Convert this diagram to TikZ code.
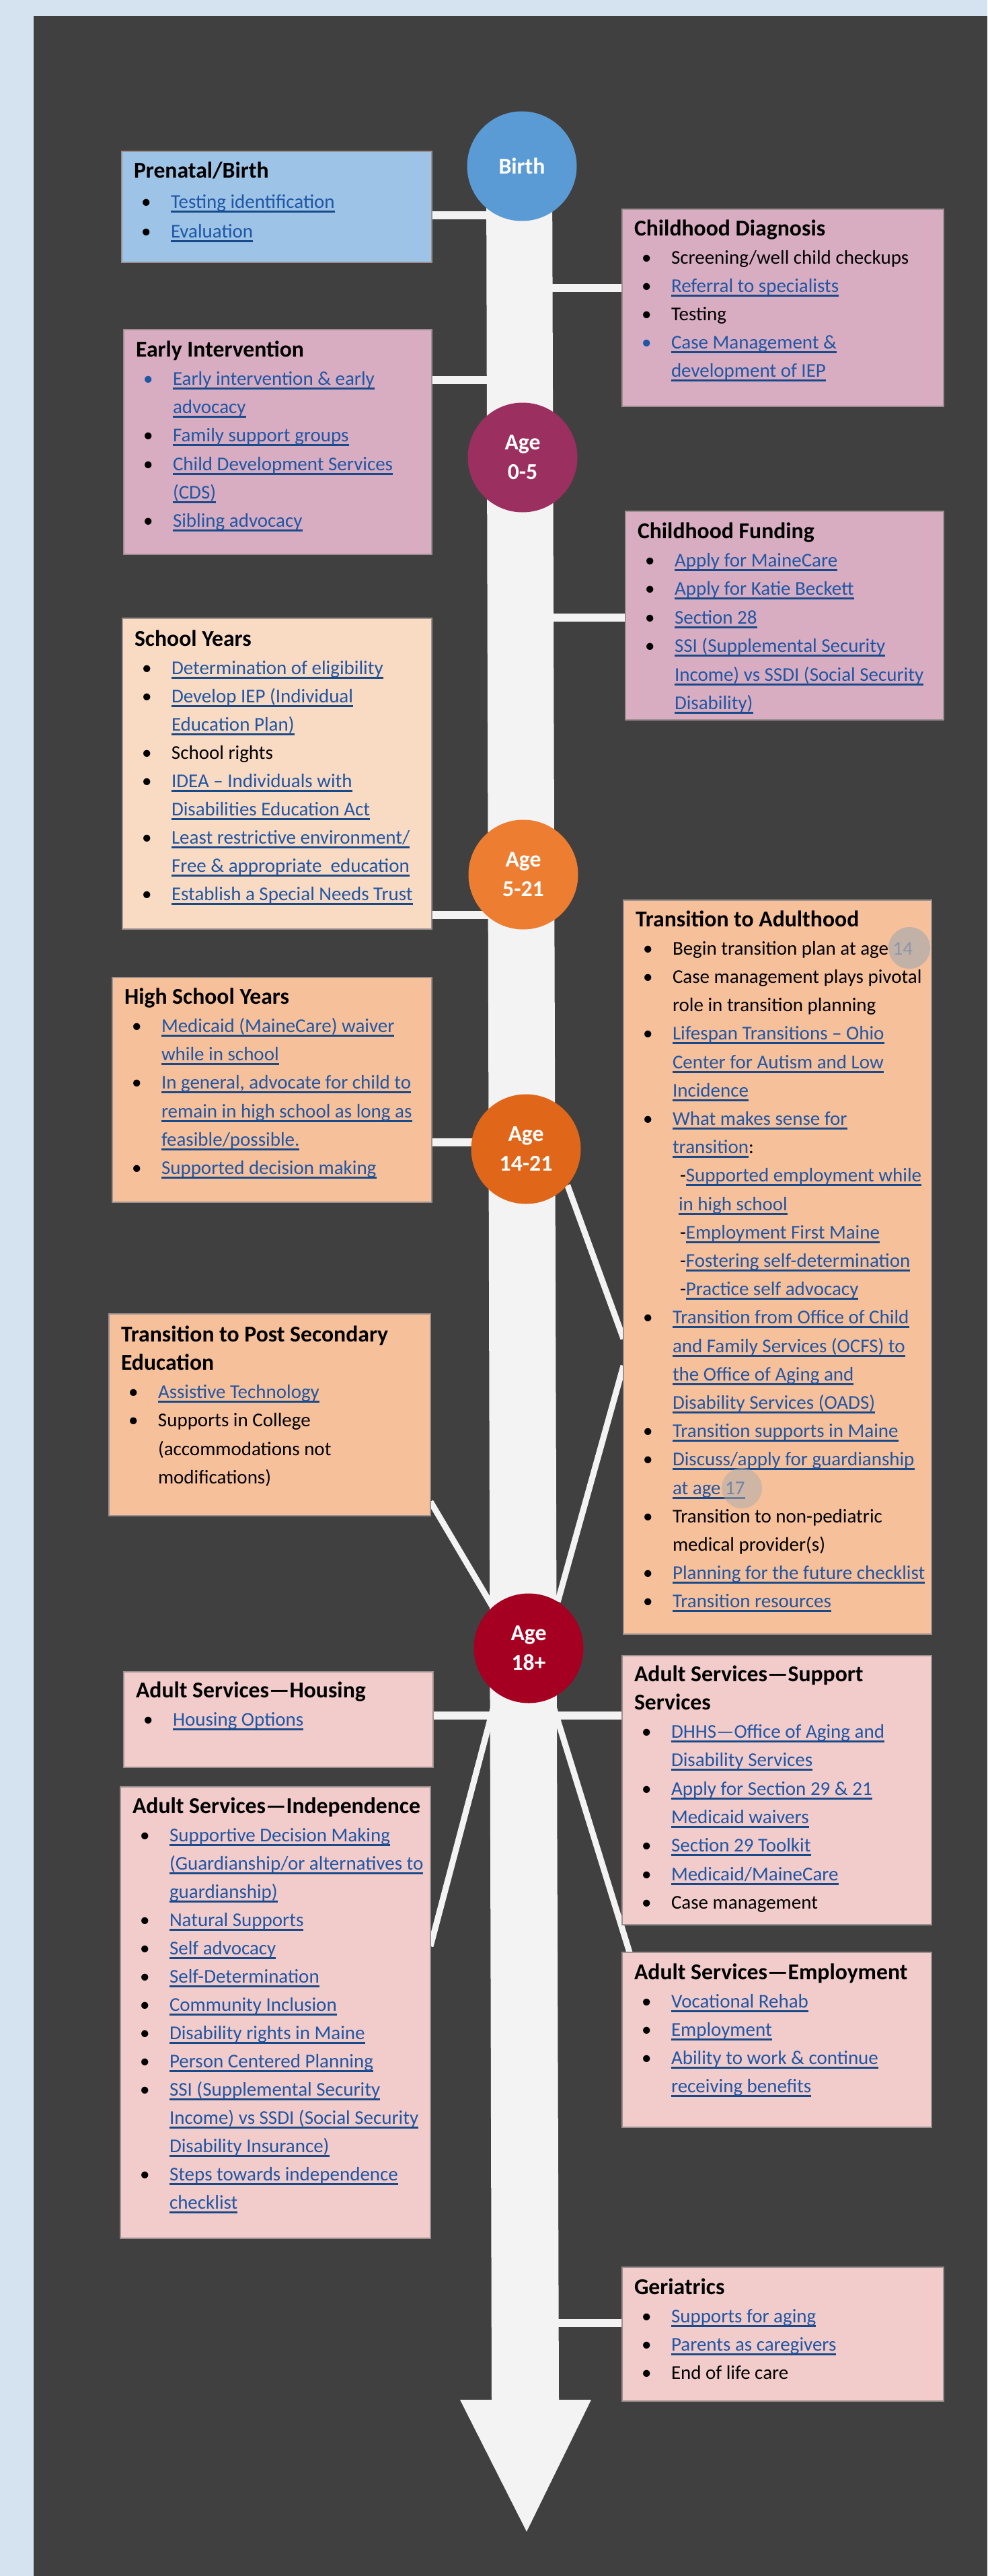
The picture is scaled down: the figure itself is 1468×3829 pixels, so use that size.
\documentclass[tikz,border=0pt]{standalone}
\usepackage{fontspec}
\setmainfont{Carlito}
\usepackage{xcolor}
\definecolor{bgblue}{HTML}{D5E2F0}
\definecolor{darkbg}{HTML}{404040}
\definecolor{spinec}{HTML}{F3F3F3}
\definecolor{cprenatal}{HTML}{9DC3E6}
\definecolor{cmauve}{HTML}{D8ADC1}
\definecolor{cpeachl}{HTML}{F9DAC3}
\definecolor{cpeach}{HTML}{F6C09B}
\definecolor{cpink}{HTML}{F2CCCB}
\definecolor{cbirth}{HTML}{5B9BD5}
\definecolor{cage05}{HTML}{9B2F5F}
\definecolor{cage521}{HTML}{ED7D31}
\definecolor{cage1421}{HTML}{E0661A}
\definecolor{cage18}{HTML}{A50021}
\definecolor{lnk}{HTML}{1F56A5}
\definecolor{lnkul}{HTML}{174A8B}
\definecolor{boxline}{HTML}{9C8F8F}
\definecolor{hilite}{HTML}{B0ACAC}

\pgfdeclarelayer{bgzero}
\pgfdeclarelayer{connlayer}
\pgfsetlayers{bgzero,connlayer,main}

\newlength\bw
\newcommand\infotext[5]{\setlength\bw{#1pt}\vbox to #2pt{\baselineskip=#4pt\lineskiplimit=-200pt\lineskip=0pt\hbox to \bw{}\vskip\dimexpr #3pt-#4pt\relax #5\vfil}}
\newcommand\Ttl[1]{\hbox to \bw{\hskip18pt{\fontsize{33.7pt}{40pt}\selectfont\bfseries #1}\hss}}
\newcommand\Bul[1]{\hbox to \bw{\hskip29pt\hbox to 44pt{\textbullet\hss}#1\hss}}
\newcommand\Bub[1]{\hbox to \bw{\hskip29pt\hbox to 44pt{{\color{lnk}\textbullet}\hss}#1\hss}}
\newcommand\Con[1]{\hbox to \bw{\hskip73pt #1\hss}}
\newcommand\Dsh[1]{\hbox to \bw{\hskip84pt #1\hss}}
\newcommand\Dcn[1]{\hbox to \bw{\hskip82pt #1\hss}}
\newcommand\lk[1]{\setbox0=\hbox{{\color{lnk}#1}}\rlap{{\color{lnkul}\rule[-6.5pt]{\wd0}{3pt}}}\box0}

\tikzset{
  infobox/.style={anchor=north west, inner sep=0pt, outer sep=0pt, draw=boxline, line width=1.2pt,
    font=\fontsize{29pt}{42pt}\selectfont},
  agecirc/.style={circle, minimum size=163pt, inner sep=0pt, text=white, align=center,
    font=\fontsize{33.7pt}{44pt}\selectfont\bfseries},
  conn/.style={draw=spinec, line width=12pt},
  diag/.style={draw=spinec, line width=9pt},
  hl/.style={circle, fill=hilite, draw=none, inner sep=0pt}
}

\begin{document}
\begin{tikzpicture}[x=1pt,y=-1pt]
\useasboundingbox (0,0) rectangle (1468,3829);
\begin{pgfonlayer}{bgzero}
\fill[bgblue] (0,0) rectangle (1468,3829);
\fill[darkbg] (50,24) rectangle (1468,3829);
\end{pgfonlayer}

% level coordinates for horizontal connectors
\coordinate (y1) at (0,320);
\coordinate (y2) at (0,428);
\coordinate (y3) at (0,565);
\coordinate (y4) at (0,918);
\coordinate (y5) at (0,1360);
\coordinate (y6) at (0,1698);
\coordinate (y7) at (0,2550);
\coordinate (y8) at (0,3453);
\coordinate (tj1) at (927,1990);
\coordinate (tj2) at (927,2030);

\node[infobox, fill=cprenatal] (prenatal) at (181,225) {\infotext{461}{165}{39.5}{44.5}{%
 \Ttl{Prenatal/Birth}%
 \Bul{\lk{Testing identification}}%
 \Bul{\lk{Evaluation}}}};

\node[infobox, fill=cmauve] (diag) at (925,311) {\infotext{478}{293}{39}{42}{%
 \Ttl{Childhood Diagnosis}%
 \Bul{Screening/well child checkups}%
 \Bul{\lk{Referral to specialists}}%
 \Bul{Testing}%
 \Bub{\lk{Case Management \&}}%
 \Con{\lk{development of IEP}}}};

\node[infobox, fill=cmauve] (early) at (184,490) {\infotext{458}{334}{40}{42.3}{%
 \Ttl{Early Intervention}%
 \Bub{\lk{Early intervention \& early}}%
 \Con{\lk{advocacy}}%
 \Bul{\lk{Family support groups}}%
 \Bul{\lk{Child Development Services}}%
 \Con{\lk{(CDS)}}%
 \Bul{\lk{Sibling advocacy}}}};

\node[infobox, fill=cmauve] (fund) at (930,760) {\infotext{473}{310}{40}{42.4}{%
 \Ttl{Childhood Funding}%
 \Bul{\lk{Apply for MaineCare}}%
 \Bul{\lk{Apply for Katie Beckett}}%
 \Bul{\lk{Section 28}}%
 \Bul{\lk{SSI (Supplemental Security}}%
 \Con{\lk{Income) vs SSDI (Social Security}}%
 \Con{\lk{Disability)}}}};

\node[infobox, fill=cpeachl] (school) at (182,919) {\infotext{460}{462}{41}{42.1}{%
 \Ttl{School Years}%
 \Bul{\lk{Determination of eligibility}}%
 \Bul{\lk{Develop IEP (Individual}}%
 \Con{\lk{Education Plan)}}%
 \Bul{School rights}%
 \Bul{\lk{IDEA – Individuals with}}%
 \Con{\lk{Disabilities Education Act}}%
 \Bul{\lk{Least restrictive environment/}}%
 \Con{\lk{Free \& appropriate\ \ education}}%
 \Bul{\lk{Establish a Special Needs Trust}}}};

\node[infobox, fill=cpeach] (tadult) at (927,1338) {\infotext{458}{1091}{39}{42.2}{%
 \Ttl{Transition to Adulthood}%
 \Bul{Begin transition plan at age {\color{lnk}14}}%
 \Bul{Case management plays pivotal}%
 \Con{role in transition planning}%
 \Bul{\lk{Lifespan Transitions – Ohio}}%
 \Con{\lk{Center for Autism and Low}}%
 \Con{\lk{Incidence}}%
 \Bul{\lk{What makes sense for}}%
 \Con{\lk{transition}:}%
 \Dsh{-\lk{Supported employment while}}%
 \Dcn{\lk{in high school}}%
 \Dsh{-\lk{Employment First Maine}}%
 \Dsh{-\lk{Fostering self-determination}}%
 \Dsh{-\lk{Practice self advocacy}}%
 \Bul{\lk{Transition from Office of Child}}%
 \Con{\lk{and Family Services (OCFS) to}}%
 \Con{\lk{the Office of Aging and}}%
 \Con{\lk{Disability Services (OADS)}}%
 \Bul{\lk{Transition supports in Maine}}%
 \Bul{\lk{Discuss/apply for guardianship}}%
 \Con{\lk{at age 17}}%
 \Bul{Transition to non-pediatric}%
 \Con{medical provider(s)}%
 \Bul{\lk{Planning for the future checklist}}%
 \Bul{\lk{Transition resources}}}};

\node[infobox, fill=cpeach] (hs) at (167,1453) {\infotext{475}{334}{39}{42.3}{%
 \Ttl{High School Years}%
 \Bul{\lk{Medicaid (MaineCare) waiver}}%
 \Con{\lk{while in school}}%
 \Bul{\lk{In general, advocate for child to}}%
 \Con{\lk{remain in high school as long as}}%
 \Con{\lk{feasible/possible.}}%
 \Bul{\lk{Supported decision making}}}};

\node[infobox, fill=cpeach] (ps) at (162,1953) {\infotext{478}{300}{41}{42.3}{%
 \Ttl{Transition to Post Secondary}%
 \Ttl{Education}%
 \Bul{\lk{Assistive Technology}}%
 \Bul{Supports in College}%
 \Con{(accommodations not}%
 \Con{modifications)}}};

\node[infobox, fill=cpink] (house) at (184,2485) {\infotext{460}{142}{38}{42}{%
 \Ttl{Adult Services—Housing}%
 \Bul{\lk{Housing Options}}}};

\node[infobox, fill=cpink] (supp) at (925,2461) {\infotext{460}{400}{38}{42.3}{%
 \Ttl{Adult Services—Support}%
 \Ttl{Services}%
 \Bul{\lk{DHHS—Office of Aging and}}%
 \Con{\lk{Disability Services}}%
 \Bul{\lk{Apply for Section 29 \& 21}}%
 \Con{\lk{Medicaid waivers}}%
 \Bul{\lk{Section 29 Toolkit}}%
 \Bul{\lk{Medicaid/MaineCare}}%
 \Bul{Case management}}};

\node[infobox, fill=cpink] (indep) at (179,2656) {\infotext{461}{671}{39}{42}{%
 \Ttl{Adult Services—Independence}%
 \Bul{\lk{Supportive Decision Making}}%
 \Con{\lk{(Guardianship/or alternatives to}}%
 \Con{\lk{guardianship)}}%
 \Bul{\lk{Natural Supports}}%
 \Bul{\lk{Self advocacy}}%
 \Bul{\lk{Self-Determination}}%
 \Bul{\lk{Community Inclusion}}%
 \Bul{\lk{Disability rights in Maine}}%
 \Bul{\lk{Person Centered Planning}}%
 \Bul{\lk{SSI (Supplemental Security}}%
 \Con{\lk{Income) vs SSDI (Social Security}}%
 \Con{\lk{Disability Insurance)}}%
 \Bul{\lk{Steps towards independence}}%
 \Con{\lk{checklist}}}};

\node[infobox, fill=cpink] (emp) at (925,2902) {\infotext{460}{260}{40}{42.2}{%
 \Ttl{Adult Services—Employment}%
 \Bul{\lk{Vocational Rehab}}%
 \Bul{\lk{Employment}}%
 \Bul{\lk{Ability to work \& continue}}%
 \Con{\lk{receiving benefits}}}};

\node[infobox, fill=cpink] (ger) at (925,3370) {\infotext{478}{199}{40}{42}{%
 \Ttl{Geriatrics}%
 \Bul{\lk{Supports for aging}}%
 \Bul{\lk{Parents as caregivers}}%
 \Bul{End of life care}}};

% age circles
\node[agecirc, fill=cbirth] (birth) at (776,247) {Birth};
\node[agecirc, fill=cage05] (age05) at (777,680) {Age\\0-5};
\node[agecirc, fill=cage521] (age521) at (778,1300) {Age\\5-21};
\node[agecirc, fill=cage1421] (age1421) at (782,1708) {Age\\14-21};
\node[agecirc, fill=cage18] (age18) at (786,2450) {Age\\18+};

% highlight marks over "14" and "17"
\node[hl, minimum size=62pt, fill opacity=0.75] (hl14) at (1352,1409) {};
\node[hl, minimum size=60pt, fill opacity=0.55] (hl17) at (1103,2212) {};

% spine and connectors behind boxes and circles
\begin{pgfonlayer}{connlayer}
\fill[spinec] (723,250) -- (821,250) -- (831,3567) -- (879,3567) -- (783,3763) -- (684,3567) -- (731,3567) -- cycle;
\draw[conn] (prenatal.east |- y1) -- (birth |- y1);
\draw[conn] (birth |- y2) -- (diag.west |- y2);
\draw[conn] (early.east |- y3) -- (age05 |- y3);
\draw[conn] (age05 |- y4) -- (fund.west |- y4);
\draw[conn] (school.east |- y5) -- (age521 |- y5);
\draw[conn] (hs.east |- y6) -- (age1421 |- y6);
\draw[conn] (house.east |- y7) -- (supp.west |- y7);
\draw[conn] (age18 |- y8) -- (ger.west |- y8);
\draw[diag] (age1421.-41) -- (tj1);
\draw[diag] (tj2) -- (age18.58);
\draw[diag] ([yshift=21pt]ps.south east) -- (age18.131);
\draw[diag] (age18.-125) -- ([yshift=-237pt]indep.north east);
\draw[diag] (age18.-66) -- ([xshift=11pt]emp.north west);
\end{pgfonlayer}
\end{tikzpicture}
\end{document}
